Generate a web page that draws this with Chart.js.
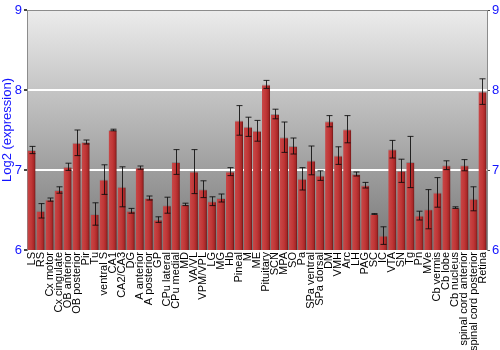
<!DOCTYPE html>
<html>
<head>
<meta charset="utf-8">
<script src="https://cdn.jsdelivr.net/npm/chart.js@4/dist/chart.umd.min.js"></script>
<style>
    html, body { margin: 0; padding: 0; background: #ffffff; }
    #chart-container { width: 500px; height: 350px; }
</style>
</head>
<body>
<div id="chart-container"><canvas width="500" height="350"></canvas></div>
<script>
const regions = [
    'LS', 'RS', 'Cx motor', 'Cx cingulate', 'OB anterior', 'OB posterior', 'Pir', 'Tu',
    'ventral S', 'CA1', 'CA2/CA3', 'DG', 'A anterior', 'A posterior', 'GP', 'CPu lateral',
    'CPu medial', 'MD', 'VA/VL', 'VPM/VPL', 'LG', 'MG', 'Hb', 'Pineal', 'M', 'ME',
    'Pituitary', 'SCN', 'MPA', 'SO', 'Pa', 'SPa ventral', 'SPa dorsal', 'DM', 'VMH', 'Arc',
    'LH', 'PAG', 'SC', 'IC', 'VTA', 'SN', 'Tg', 'Pn', 'MVe', 'Cb vermis', 'Cb lobe',
    'Cb nucleus', 'spinal cord anterior', 'spinal cord posterior', 'Retina',
];

const expression = [
    7.25, 6.49, 6.63, 6.75, 7.04, 7.34, 7.35, 6.45,
    6.88, 7.50, 6.79, 6.49, 7.03, 6.65, 6.38, 6.56,
    7.10, 6.57, 6.98, 6.76, 6.61, 6.65, 6.98, 7.62, 7.54, 7.49,
    8.07, 7.70, 7.41, 7.30, 6.89, 7.12, 6.93, 7.61, 7.18, 7.51,
    6.95, 6.81, 6.45, 6.18, 7.26, 6.99, 7.10, 6.43, 6.51, 6.72, 7.06,
    6.53, 7.06, 6.64, 7.98,
];

const expressionError = [
    0.045, 0.09, 0.02, 0.04, 0.045, 0.16, 0.025, 0.14,
    0.185, 0.01, 0.25, 0.03, 0.02, 0.025, 0.035, 0.10,
    0.155, 0.015, 0.275, 0.105, 0.055, 0.05, 0.05, 0.185, 0.12, 0.13,
    0.05, 0.06, 0.19, 0.10, 0.14, 0.18, 0.06, 0.07, 0.11, 0.17,
    0.025, 0.035, 0.005, 0.11, 0.11, 0.145, 0.32, 0.055, 0.245, 0.185, 0.055,
    0.01, 0.07, 0.15, 0.16,
];

const yTicks = [6, 7, 8, 9];

const blue = '#1414ff';

// gray gradient behind the bars, plus frame line on top
const backgroundPlugin = {
    id: 'plotBackground',
    beforeDraw(chart) {
        const { ctx, chartArea } = chart;
        const g = ctx.createLinearGradient(0, chartArea.top, 0, chartArea.bottom);
        g.addColorStop(0, '#ececec');
        g.addColorStop(1, '#777777');
        ctx.save();
        ctx.fillStyle = g;
        ctx.fillRect(chartArea.left, chartArea.top, chartArea.right - chartArea.left, chartArea.bottom - chartArea.top);
        ctx.restore();
    },
    afterDraw(chart) {
        const { ctx, chartArea } = chart;
        ctx.save();
        ctx.strokeStyle = '#8c8c8c';
        ctx.lineWidth = 1;
        ctx.beginPath();
        ctx.moveTo(chartArea.left, chartArea.top + 0.5);
        ctx.lineTo(chartArea.right, chartArea.top + 0.5);
        ctx.stroke();
        ctx.restore();
    },
};

// error bars, drawn through the chart's own scales
const errorBarPlugin = {
    id: 'errorBars',
    afterDatasetsDraw(chart) {
        const { ctx } = chart;
        const x = chart.scales.x;
        const y = chart.scales.y;
        ctx.save();
        ctx.strokeStyle = 'rgba(10, 10, 10, 0.85)';
        ctx.lineWidth = 1;
        expression.forEach((value, i) => {
            const err = expressionError[i];
            const px = Math.round(x.getPixelForValue(i)) + 0.5;
            const top = y.getPixelForValue(value + err);
            const bottom = y.getPixelForValue(value - err);
            ctx.beginPath();
            ctx.moveTo(px, top);
            ctx.lineTo(px, bottom);
            ctx.moveTo(px - 3, top);
            ctx.lineTo(px + 3, top);
            ctx.moveTo(px - 3, bottom);
            ctx.lineTo(px + 3, bottom);
            ctx.stroke();
        });
        ctx.restore();
    },
};

function barFill(context) {
    const chart = context.chart;
    if (!chart.chartArea) {
        return '#b83030';
    }
    const x = chart.scales.x;
    const center = x.getPixelForValue(context.dataIndex);
    const half = x.width / regions.length * 0.45;
    const g = chart.ctx.createLinearGradient(center - half, 0, center + half, 0);
    g.addColorStop(0, '#c84848');
    g.addColorStop(0.5, '#c03636');
    g.addColorStop(0.8, '#a82828');
    g.addColorStop(1, '#6a1515');
    return g;
}

function createChart() {
    const chartCanvas = document.querySelector('#chart-container > canvas');

    new Chart(chartCanvas, {
        type: 'bar',
        data: {
            labels: regions,
            datasets: [
                {
                    label: 'Log2 (expression)',
                    data: expression,
                    backgroundColor: barFill,
                    borderColor: 'rgba(120, 120, 120, 0.6)',
                    borderWidth: { left: 0, right: 0, top: 1, bottom: 0 },
                    barPercentage: 0.9,
                    categoryPercentage: 1.0,
                },
            ],
        },
        options: {
            responsive: false,
            animation: false,
            layout: {
                padding: { top: 10, left: 0, right: 0, bottom: 0 },
            },
            plugins: {
                legend: { display: false },
                tooltip: { enabled: false },
            },
            scales: {
                x: {
                    grid: { display: false, drawTicks: false },
                    border: { display: false },
                    ticks: {
                        autoSkip: false,
                        minRotation: 90,
                        maxRotation: 90,
                        padding: 2,
                        color: '#000000',
                        font: { family: 'Liberation Sans', size: 11 },
                    },
                    afterFit: (scale) => { scale.height = 100; },
                },
                y: {
                    position: 'left',
                    min: 6,
                    max: 9,
                    afterBuildTicks: (scale) => { scale.ticks = yTicks.map(v => ({ value: v })); },
                    grid: {
                        color: (c) => (c.tick && (c.tick.value === 7 || c.tick.value === 8)) ? '#ffffff' : 'rgba(0,0,0,0)',
                        lineWidth: 2,
                        tickColor: '#444444',
                        tickLength: 3,
                    },
                    border: { display: true, color: '#8c8c8c' },
                    ticks: {
                        color: blue,
                        padding: 2,
                        font: { family: 'Liberation Sans', size: 13 },
                    },
                    title: {
                        display: true,
                        text: 'Log2 (expression)',
                        color: blue,
                        padding: 0,
                        font: { family: 'Liberation Sans', size: 13 },
                    },
                    afterFit: (scale) => { scale.width = 27; },
                },
                yRight: {
                    position: 'right',
                    min: 6,
                    max: 9,
                    afterBuildTicks: (scale) => { scale.ticks = yTicks.map(v => ({ value: v })); },
                    grid: {
                        drawOnChartArea: false,
                        tickColor: '#444444',
                        tickLength: 3,
                    },
                    border: { display: true, color: '#8c8c8c' },
                    ticks: {
                        color: blue,
                        padding: 2,
                        font: { family: 'Liberation Sans', size: 13 },
                    },
                    afterFit: (scale) => { scale.width = 13; },
                },
            },
        },
        plugins: [backgroundPlugin, errorBarPlugin],
    });
}

createChart();
</script>
</body>
</html>
